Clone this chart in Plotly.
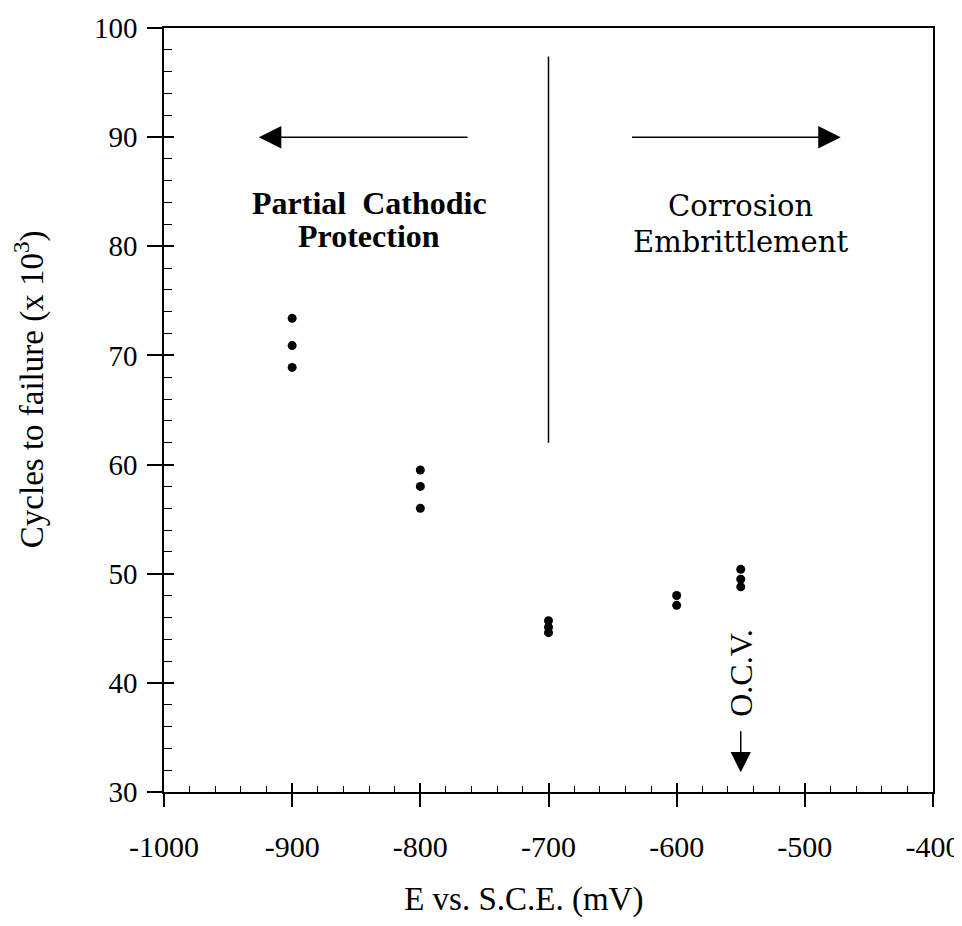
import plotly.graph_objects as go

# ---- data ----
potential_mV = [-900, -900, -900, -800, -800, -800, -700, -700, -700,
                -600, -600, -550, -550, -550]
cycles_k = [73.4, 70.9, 68.9, 59.5, 58.0, 56.0, 45.7, 45.1, 44.6,
            48.0, 47.1, 50.4, 49.5, 48.8]

x_tick_vals = [-1000, -900, -800, -700, -600, -500, -400]
x_tick_text = ["-1000", "-900", "-800", "-700", "-600", "-500", "-400"]
y_tick_vals = [30, 40, 50, 60, 70, 80, 90, 100]
y_tick_text = ["30", "40", "50", "60", "70", "80", "90", "100"]

divider_x = [-700, -700]
divider_y = [62.0, 97.4]

arrow_level = 90
left_arrow_x = [-762, -926]    # tail, tip
right_arrow_x = [-636, -472]   # tail, tip
ocv_x = -550
ocv_arrow_y = [35.7, 31.8]     # tail, tip
ocv_text_y = 40.9

region_left_lines = ["Partial\u00a0 Cathodic", "Protection"]
region_left_x = -840
region_left_y = [84.0, 80.9]
region_right_lines = ["Corrosion", "Embrittlement"]
region_right_x = -550
region_right_y = [83.65, 80.35]

SERIF = "Liberation Serif"
NB = "\u00a0"
ZW = "\u200b"

fig = go.Figure()
fig.add_trace(go.Scatter(x=potential_mV, y=cycles_k, mode="markers",
                         marker=dict(color="black", size=9),
                         showlegend=False, hoverinfo="x+y"))
fig.add_trace(go.Scatter(x=divider_x, y=divider_y, mode="lines",
                         line=dict(color="black", width=1.5),
                         showlegend=False, hoverinfo="skip"))
# empty trace so the overlay axes (outer halves of major ticks) are drawn
fig.add_trace(go.Scatter(x=[], y=[], xaxis="x2", yaxis="y2",
                         showlegend=False, hoverinfo="skip"))

annotations = []
for txt, yy in zip(region_left_lines, region_left_y):
    annotations.append(dict(x=region_left_x, y=yy, xref="x", yref="y", text=txt,
                            showarrow=False,
                            font=dict(family=SERIF, size=32, color="black", weight="bold")))
for txt, yy in zip(region_right_lines, region_right_y):
    annotations.append(dict(x=region_right_x, y=yy, xref="x", yref="y", text=txt,
                            showarrow=False,
                            font=dict(family="DejaVu Serif", size=29, color="black")))
annotations.append(dict(x=ocv_x, y=ocv_text_y, xref="x", yref="y", text="O.C.V.",
                        textangle=-90, showarrow=False,
                        font=dict(family=SERIF, size=32, color="black")))
for tail, tip in (left_arrow_x, right_arrow_x):
    annotations.append(dict(x=tip, y=arrow_level, ax=tail, ay=arrow_level,
                            xref="x", yref="y", axref="x", ayref="y", text="",
                            showarrow=True, arrowhead=2, arrowsize=3.0, arrowwidth=1.5,
                            arrowcolor="black"))
annotations.append(dict(x=ocv_x, y=ocv_arrow_y[1], ax=ocv_x, ay=ocv_arrow_y[0],
                        xref="x", yref="y", axref="x", ayref="y", text="",
                        showarrow=True, arrowhead=2, arrowsize=2.7, arrowwidth=1.5,
                        arrowcolor="black"))

common_line = dict(showline=True, linecolor="black", linewidth=1.5, mirror=True,
                   showgrid=False, zeroline=False, automargin=False)

# the page body adds an 8 px margin around the figure, so the figure is sized
# to fit the 962x926 window without scrollbars
fig.update_layout(
    width=954, height=910,
    margin=dict(l=156, r=29, t=20, b=126),
    paper_bgcolor="white", plot_bgcolor="white",
    showlegend=False,
    font=dict(family=SERIF, color="black"),
    xaxis=dict(range=[-1000, -400], tickmode="array", tickvals=x_tick_vals,
               ticktext=x_tick_text, ticks="inside", ticklen=9, tickwidth=1.5,
               tickcolor="black",
               minor=dict(dtick=20, tick0=-1000, ticks="inside", ticklen=6,
                          tickwidth=1, tickcolor="black", showgrid=False),
               tickfont=dict(family=SERIF, size=30, color="black"),
               ticklabelstandoff=27,
               title=dict(text="E vs. S.C.E. (mV)" + NB * 6 + ZW,
                          font=dict(family=SERIF, size=33, color="black"),
                          standoff=29),
               **common_line),
    yaxis=dict(range=[30, 100], tickmode="array", tickvals=y_tick_vals,
               ticktext=y_tick_text, ticks="inside", ticklen=10, tickwidth=1.5,
               tickcolor="black",
               minor=dict(dtick=2, tick0=30, ticks="inside", ticklen=8,
                          tickwidth=1, tickcolor="black", showgrid=False),
               tickfont=dict(family=SERIF, size=29, color="black"),
               ticklabelstandoff=19,
               title=dict(text=ZW + NB * 5 + "Cycles to failure (x 10<sup>3</sup>)",
                          font=dict(family=SERIF, size=33, color="black"),
                          standoff=43),
               **common_line),
    xaxis2=dict(range=[-1000, -400], overlaying="x", anchor="y2", side="bottom",
                tickmode="array", tickvals=x_tick_vals, ticks="outside", ticklen=14,
                tickwidth=1.5, tickcolor="black", showticklabels=False,
                showline=False, showgrid=False, zeroline=False, automargin=False),
    yaxis2=dict(range=[30, 100], overlaying="y", anchor="x2", side="left",
                tickmode="array", tickvals=y_tick_vals, ticks="outside", ticklen=16,
                tickwidth=1.5, tickcolor="black", showticklabels=False,
                showline=False, showgrid=False, zeroline=False, automargin=False),
    annotations=annotations,
)

fig.write_html("out.html")
